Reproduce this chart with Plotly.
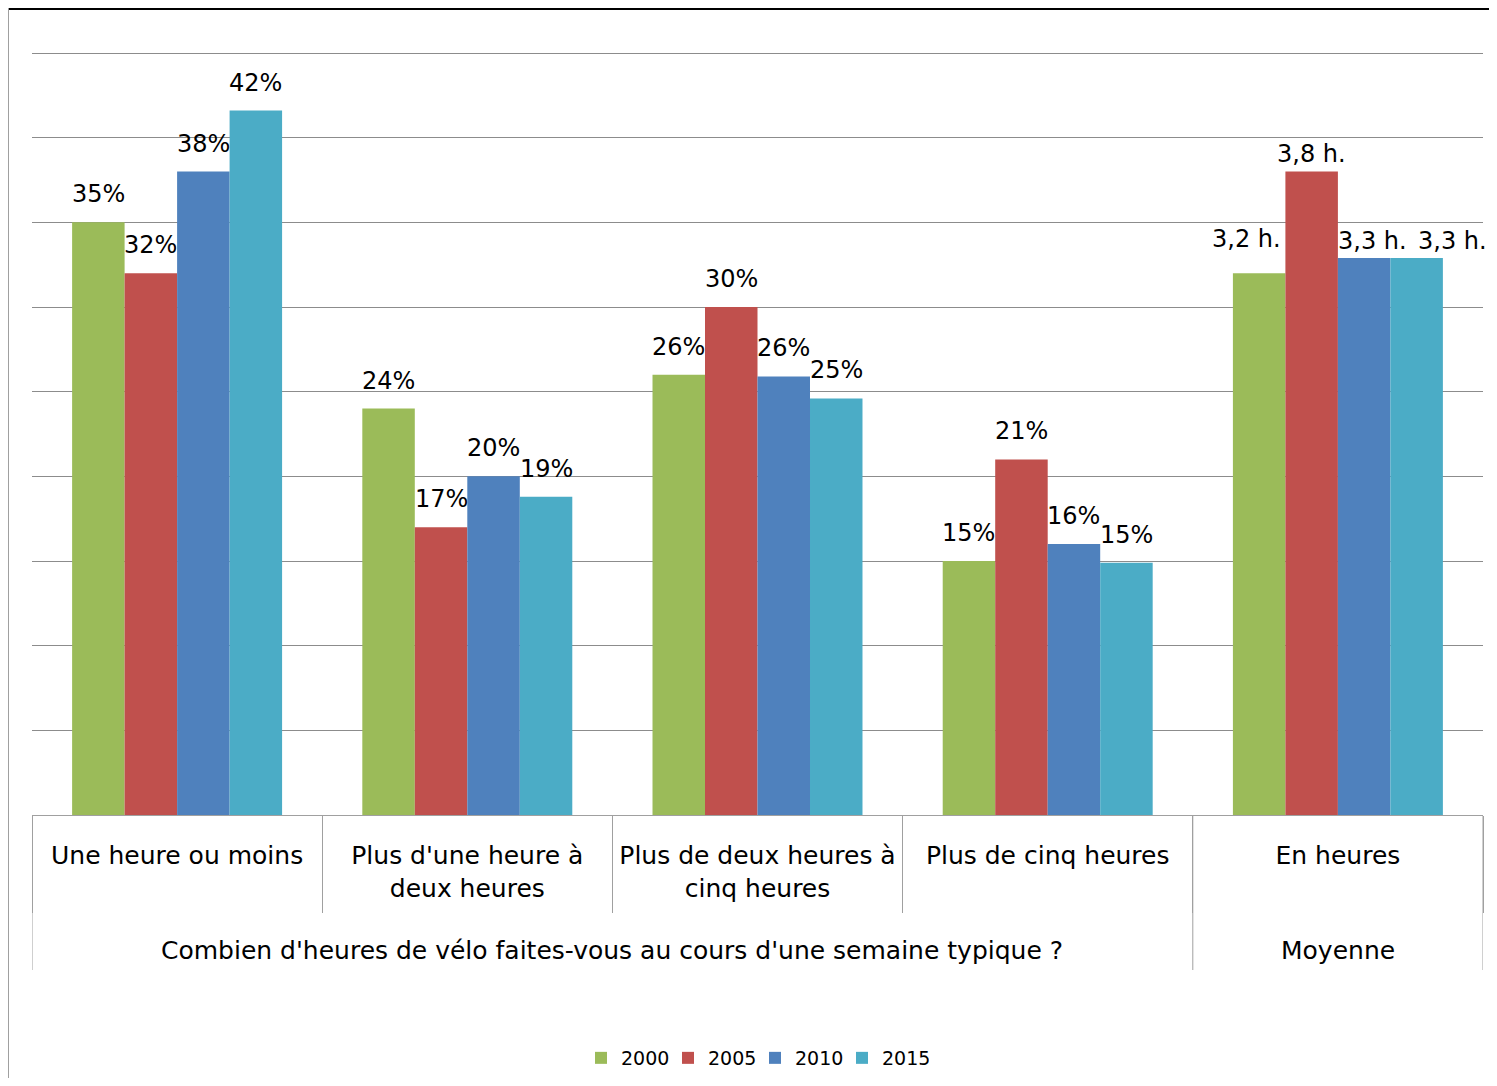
import plotly.graph_objects as go

categories = [
    "Une heure ou moins",
    "Plus d'une heure à<br>deux heures",
    "Plus de deux heures à<br>cinq heures",
    "Plus de cinq heures",
    "En heures",
]
group_labels = ["Combien d'heures de vélo faites-vous au cours d'une semaine typique ?", "Moyenne"]
years = ["2000", "2005", "2010", "2015"]
colors = ["#9BBB59", "#C0504D", "#4F81BD", "#4BACC6"]

# percentage shares for the first four categories, per year
pct_2000 = [35.0, 24.0, 26.0, 15.0]
pct_2005 = [32.0, 17.0, 30.0, 21.0]
pct_2010 = [38.0, 20.0, 25.9, 16.0]
pct_2015 = [41.6, 18.8, 24.6, 14.9]
# average hours per week (drawn on the same axis, x10)
hours_avg = [3.2, 3.8, 3.29, 3.29]

pct_series = [pct_2000, pct_2005, pct_2010, pct_2015]

# nudges (px) of the "Moyenne" labels, as placed in the original
moy_label_dx = [-13, 0, 8, 36]
moy_label_dy = [6, -10, -11, -11]

# page is shown with an 8px body margin: compensate
OFF = 8
W, H = 1481, 1070
ML, MR, MT = 32 - OFF, 6, 52 - OFF
MB = H - (815 - OFF)
plot_w = W - ML - MR
plot_h = H - MT - MB
BARGAP = 0.2764

def py(page_y):
    return (815 - page_y) / plot_h

def px(page_x):
    return (page_x - 32) / plot_w

FONT = "DejaVu Sans"
LABEL_SIZE = 24
CAT_SIZE = 25

fig = go.Figure()
for i, yr in enumerate(years):
    vals = pct_series[i] + [hours_avg[i] * 10]
    fig.add_trace(go.Bar(
        name=yr, x=categories, y=vals,
        marker=dict(color=colors[i], line=dict(width=0)),
        hoverinfo="x+y+name",
    ))

bar_px = plot_w / len(categories) * (1 - BARGAP) / len(years)
annotations = []
for i in range(len(years)):
    for j, cat in enumerate(categories):
        if j < 4:
            v = pct_series[i][j]
            txt = f"{round(v)}%"
            dx, dy = 0, 0
        else:
            v = hours_avg[i] * 10
            txt = f"{hours_avg[i]:.1f}".replace(".", ",") + " h."
            dx, dy = moy_label_dx[i], moy_label_dy[i]
        annotations.append(dict(
            text=txt, x=cat, xref="x", y=v, yref="y",
            xanchor="center", yanchor="bottom",
            xshift=(i - 1.5) * bar_px + dx, yshift=12 + dy,
            showarrow=False, font=dict(size=LABEL_SIZE, family=FONT, color="#000000"),
        ))

annotations += [
    dict(text=group_labels[0], x=1.5, xref="x", y=py(950), yref="paper",
         yanchor="middle", showarrow=False, font=dict(size=CAT_SIZE, family=FONT, color="#000000")),
    dict(text=group_labels[1], x=4, xref="x", y=py(950), yref="paper",
         yanchor="middle", showarrow=False, font=dict(size=CAT_SIZE, family=FONT, color="#000000")),
]

shapes = []
# long dividers between outer groups
for xb in [-0.5, 3.5, 4.5]:
    shapes.append(dict(type="line", xref="x", yref="paper", x0=xb, x1=xb,
                       y0=0, y1=py(970), line=dict(color="#A0A0A0", width=1)))
# chart border (top and left)
shapes.append(dict(type="line", xref="paper", yref="paper",
                   x0=px(OFF), x1=px(OFF + W), y0=py(OFF + 1), y1=py(OFF + 1),
                   line=dict(color="#000000", width=2)))
shapes.append(dict(type="line", xref="paper", yref="paper",
                   x0=px(OFF + 0.5), x1=px(OFF + 0.5), y0=py(OFF), y1=py(OFF + H),
                   line=dict(color="#A0A0A0", width=1)))

fig.update_layout(
    width=W, height=H,
    margin=dict(l=ML, r=MR, t=MT, b=MB, autoexpand=False),
    barmode="group", bargap=BARGAP, bargroupgap=0,
    plot_bgcolor="white", paper_bgcolor="white",
    font=dict(family=FONT, color="#000000"),
    showlegend=True,
    legend=dict(orientation="h", x=px(755), xanchor="center", y=py(1058), yanchor="middle",
                font=dict(size=19, family=FONT), itemwidth=30, entrywidth=42,
                entrywidthmode="pixels", traceorder="normal"),
    shapes=shapes, annotations=annotations,
)
fig.update_yaxes(range=[0, 45.06], tick0=0, dtick=5, showgrid=True, gridcolor="#8C8C8C", gridwidth=1,
                 showticklabels=False, zeroline=False, showline=False, ticks="")
fig.update_xaxes(range=[-0.5, 4.5], autorange=False,
                 showline=True, linecolor="#A0A0A0", linewidth=1,
                 ticks="outside", tickson="boundaries", ticklen=97, tickcolor="#A0A0A0",
                 tickwidth=1, ticklabelstandoff=18,
                 tickfont=dict(size=CAT_SIZE, family=FONT, color="#000000"))

fig.write_html("out.html")
